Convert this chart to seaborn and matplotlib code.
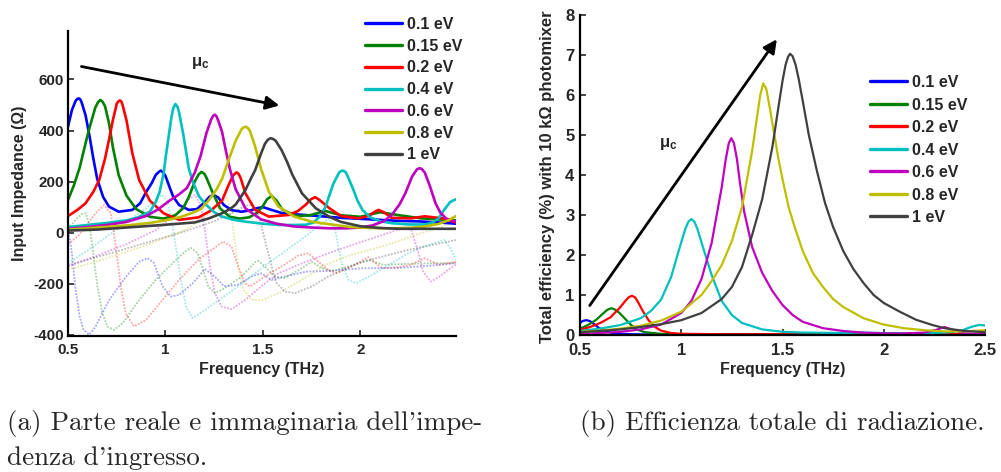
import matplotlib
matplotlib.use("Agg")
import matplotlib.pyplot as plt
from matplotlib.lines import Line2D
import seaborn as sns

# ---------------------------------------------------------------- data
labels = ["0.1 eV", "0.15 eV", "0.2 eV", "0.4 eV", "0.6 eV", "0.8 eV", "1 eV"]
colors = ["#0000ff", "#008000", "#ff0000", "#00bfbf", "#bf00bf", "#bfbf00", "#404040"]

# Input impedance, real part (Ohm) vs frequency (THz)
re_f_01 = [0.50, 0.52, 0.54, 0.548, 0.555, 0.563, 0.57, 0.59, 0.61, 0.63, 0.65, 0.68, 0.71, 0.76, 0.83, 0.87, 0.90, 0.93, 0.95, 0.966, 0.976, 0.988, 1.00, 1.02, 1.04, 1.07, 1.12, 1.16, 1.20, 1.225, 1.245, 1.27, 1.30, 1.34, 1.39, 1.44, 1.47, 1.50, 1.54, 1.60, 1.70, 1.80, 1.90, 2.00, 2.10, 2.20, 2.30, 2.40, 2.49]
re_v_01 = [415, 480, 518, 524, 526, 522, 510, 460, 380, 290, 210, 140, 102, 82, 89, 115, 158, 195, 226, 238, 243, 236, 222, 180, 140, 108, 89, 92, 118, 140, 148, 138, 108, 88, 82, 88, 96, 100, 90, 76, 70, 64, 58, 54, 50, 46, 44, 40, 35]

re_f_015 = [0.50, 0.53, 0.56, 0.59, 0.61, 0.64, 0.655, 0.666, 0.677, 0.69, 0.71, 0.73, 0.76, 0.80, 0.85, 0.92, 0.99, 1.05, 1.09, 1.12, 1.15, 1.17, 1.185, 1.20, 1.21, 1.24, 1.28, 1.33, 1.38, 1.43, 1.47, 1.50, 1.52, 1.545, 1.57, 1.60, 1.67, 1.74, 1.82, 1.90, 2.00, 2.10, 2.20, 2.31, 2.40, 2.49]
re_v_015 = [128, 185, 255, 350, 410, 490, 512, 520, 513, 495, 430, 335, 225, 145, 92, 62, 55, 68, 95, 140, 200, 228, 238, 230, 215, 160, 95, 62, 55, 60, 78, 105, 130, 144, 125, 90, 65, 68, 85, 68, 62, 80, 68, 56, 52, 48]

re_f_02 = [0.50, 0.55, 0.59, 0.63, 0.66, 0.69, 0.71, 0.73, 0.75, 0.758, 0.766, 0.774, 0.78, 0.80, 0.83, 0.865, 0.92, 0.99, 1.07, 1.17, 1.23, 1.29, 1.32, 1.345, 1.357, 1.365, 1.375, 1.385, 1.41, 1.46, 1.53, 1.63, 1.68, 1.72, 1.745, 1.767, 1.79, 1.84, 1.90, 1.99, 2.04, 2.07, 2.092, 2.12, 2.16, 2.26, 2.33, 2.42, 2.49]
re_v_02 = [65, 90, 115, 160, 206, 290, 363, 440, 505, 514, 518, 513, 500, 440, 311, 206, 125, 76, 50, 60, 85, 125, 180, 222, 232, 236, 230, 215, 154, 89, 63, 69, 85, 110, 130, 139, 128, 96, 65, 56, 65, 80, 89, 80, 58, 56, 64, 56, 40]

re_f_04 = [0.50, 0.60, 0.70, 0.80, 0.86, 0.92, 0.95, 0.97, 0.99, 1.00, 1.015, 1.03, 1.04, 1.051, 1.062, 1.07, 1.09, 1.105, 1.12, 1.14, 1.17, 1.20, 1.25, 1.29, 1.35, 1.41, 1.50, 1.58, 1.66, 1.72, 1.76, 1.79, 1.82, 1.86, 1.89, 1.90, 1.912, 1.925, 1.935, 1.96, 1.985, 2.01, 2.05, 2.10, 2.16, 2.25, 2.33, 2.37, 2.40, 2.43, 2.46, 2.49]
re_v_04 = [22, 30, 38, 48, 60, 82, 120, 160, 230, 290, 370, 450, 488, 504, 492, 470, 390, 320, 250, 200, 145, 115, 80, 63, 50, 43, 35, 30, 30, 31, 40, 62, 100, 190, 235, 241, 243, 236, 220, 175, 125, 89, 60, 45, 37, 32, 32, 40, 55, 90, 120, 131]

re_f_06 = [0.50, 0.60, 0.70, 0.80, 0.90, 0.96, 1.02, 1.07, 1.11, 1.15, 1.18, 1.21, 1.235, 1.245, 1.253, 1.262, 1.27, 1.29, 1.31, 1.33, 1.36, 1.41, 1.49, 1.57, 1.66, 1.75, 1.84, 1.93, 2.00, 2.06, 2.12, 2.16, 2.20, 2.23, 2.265, 2.29, 2.298, 2.306, 2.315, 2.33, 2.355, 2.385, 2.41, 2.44, 2.49]
re_v_06 = [15, 22, 30, 42, 65, 90, 125, 150, 175, 235, 300, 390, 445, 458, 462, 455, 440, 395, 320, 250, 170, 95, 52, 35, 24, 20, 17, 17, 20, 28, 45, 69, 110, 154, 220, 248, 251, 252, 249, 235, 185, 115, 78, 55, 43]

re_f_08 = [0.50, 0.65, 0.80, 0.92, 1.00, 1.08, 1.14, 1.18, 1.22, 1.26, 1.29, 1.33, 1.36, 1.39, 1.40, 1.413, 1.425, 1.435, 1.46, 1.49, 1.53, 1.58, 1.66, 1.75, 1.84, 1.95, 2.05, 2.16, 2.26, 2.33, 2.40, 2.45, 2.49]
re_v_08 = [12, 20, 28, 38, 48, 62, 78, 92, 125, 167, 210, 298, 360, 405, 412, 415, 408, 395, 337, 250, 161, 102, 63, 43, 33, 22, 18, 17, 19, 24, 34, 48, 65]

re_f_10 = [0.50, 0.65, 0.80, 0.95, 1.05, 1.15, 1.22, 1.29, 1.33, 1.36, 1.41, 1.44, 1.46, 1.49, 1.51, 1.525, 1.539, 1.552, 1.565, 1.595, 1.625, 1.65, 1.70, 1.77, 1.84, 1.90, 2.00, 2.10, 2.20, 2.35, 2.49]
re_v_10 = [8, 12, 20, 28, 34, 40, 55, 76, 92, 110, 167, 215, 245, 310, 348, 364, 370, 367, 360, 324, 275, 228, 154, 96, 62, 42, 25, 18, 15, 15, 15]

# Input impedance, imaginary part (Ohm)
im_f_01 = [0.50, 0.52, 0.54, 0.56, 0.58, 0.608, 0.64, 0.71, 0.80, 0.865, 0.908, 0.94, 0.96, 0.985, 1.027, 1.07, 1.14, 1.202, 1.25, 1.30, 1.37, 1.44, 1.49, 1.545, 1.61, 1.72, 1.84, 2.00, 2.20, 2.35, 2.49]
im_v_01 = [15, -80, -230, -330, -380, -400, -370, -265, -170, -114, -100, -118, -160, -210, -251, -244, -198, -143, -170, -210, -205, -172, -159, -185, -172, -153, -150, -140, -138, -130, -120]

im_f_015 = [0.50, 0.54, 0.57, 0.591, 0.61, 0.625, 0.651, 0.677, 0.702, 0.736, 0.78, 0.865, 0.95, 1.036, 1.10, 1.13, 1.165, 1.19, 1.22, 1.253, 1.305, 1.39, 1.46, 1.476, 1.51, 1.56, 1.61, 1.70, 1.75, 1.80, 1.86, 1.95, 2.04, 2.12, 2.25, 2.49]
im_v_015 = [15, 50, 72, 76, 30, -55, -211, -316, -368, -381, -355, -264, -185, -120, -74, -60, -80, -140, -211, -237, -218, -172, -116, -110, -133, -172, -179, -139, -114, -139, -150, -130, -107, -126, -122, -118]

im_f_02 = [0.50, 0.55, 0.59, 0.64, 0.685, 0.72, 0.745, 0.771, 0.796, 0.839, 0.90, 0.985, 1.07, 1.17, 1.25, 1.296, 1.339, 1.373, 1.408, 1.433, 1.51, 1.60, 1.68, 1.733, 1.784, 1.84, 1.88, 1.96, 2.04, 2.11, 2.20, 2.26, 2.33, 2.40, 2.49]
im_v_02 = [-45, -15, 24, 75, 108, 76, -55, -211, -316, -368, -342, -264, -185, -105, -60, -35, -55, -133, -198, -211, -172, -131, -90, -81, -114, -150, -158, -130, -96, -139, -135, -126, -100, -126, -115]

im_f_04 = [0.50, 0.60, 0.70, 0.80, 0.90, 0.96, 0.985, 1.01, 1.035, 1.055, 1.08, 1.105, 1.139, 1.20, 1.30, 1.40, 1.50, 1.60, 1.70, 1.80, 1.84, 1.87, 1.904, 1.938, 1.98, 2.075, 2.16, 2.245, 2.34, 2.43, 2.46, 2.49]
im_v_04 = [-120, -70, -15, 40, 95, 135, 148, 120, 30, -65, -190, -290, -335, -305, -250, -195, -135, -80, -25, 35, 55, 10, -120, -185, -198, -159, -120, -81, -50, -29, -60, -107]

im_f_06 = [0.50, 0.65, 0.80, 0.95, 1.05, 1.12, 1.15, 1.18, 1.202, 1.228, 1.253, 1.288, 1.339, 1.408, 1.50, 1.58, 1.70, 1.835, 1.95, 2.05, 2.15, 2.22, 2.26, 2.29, 2.32, 2.36, 2.40, 2.45, 2.49]
im_v_06 = [-133, -90, -45, 10, 70, 130, 148, 110, 10, -133, -237, -290, -300, -264, -205, -159, -120, -81, -50, -25, 0, 20, 10, -60, -150, -192, -175, -145, -126]

im_f_08 = [0.50, 0.70, 0.90, 1.10, 1.20, 1.27, 1.30, 1.314, 1.33, 1.348, 1.373, 1.40, 1.44, 1.493, 1.58, 1.70, 1.82, 1.95, 2.06, 2.16, 2.28, 2.40, 2.49]
im_v_08 = [-146, -100, -50, 10, 60, 105, 125, 135, 100, 10, -133, -224, -262, -266, -237, -185, -126, -88, -65, -42, -10, 20, 45]

im_f_10 = [0.50, 0.70, 0.90, 1.10, 1.25, 1.35, 1.41, 1.442, 1.47, 1.493, 1.515, 1.536, 1.555, 1.57, 1.613, 1.664, 1.75, 1.835, 1.99, 2.12, 2.245, 2.37, 2.49]
im_v_10 = [-127, -85, -40, 5, 45, 80, 105, 110, 85, 24, -45, -107, -165, -198, -231, -237, -211, -172, -120, -92, -68, -48, -29]

# Total radiation efficiency (%) with a 10 kOhm photomixer
ef_f_01 = [0.50, 0.51, 0.52, 0.531, 0.542, 0.555, 0.57, 0.59, 0.62, 0.66, 0.70, 0.80, 1.00, 1.50, 2.00, 2.50]
ef_v_01 = [0.30, 0.34, 0.36, 0.37, 0.36, 0.33, 0.27, 0.19, 0.10, 0.05, 0.03, 0.015, 0.01, 0.01, 0.01, 0.01]

ef_f_015 = [0.50, 0.54, 0.58, 0.61, 0.635, 0.655, 0.675, 0.695, 0.72, 0.75, 0.78, 0.82, 0.90, 1.00, 1.50, 2.00, 2.50]
ef_v_015 = [0.16, 0.25, 0.38, 0.52, 0.63, 0.67, 0.63, 0.55, 0.42, 0.26, 0.14, 0.07, 0.03, 0.02, 0.01, 0.01, 0.01]

ef_f_02 = [0.50, 0.55, 0.60, 0.65, 0.70, 0.725, 0.742, 0.757, 0.772, 0.787, 0.81, 0.84, 0.87, 0.90, 0.95, 1.00, 1.20, 1.50, 2.00, 2.50]
ef_v_02 = [0.13, 0.20, 0.30, 0.44, 0.70, 0.86, 0.95, 0.98, 0.94, 0.82, 0.60, 0.36, 0.20, 0.11, 0.05, 0.03, 0.02, 0.02, 0.02, 0.02]

ef_f_04 = [0.50, 0.60, 0.70, 0.80, 0.85, 0.90, 0.95, 0.99, 1.02, 1.035, 1.05, 1.065, 1.08, 1.11, 1.15, 1.20, 1.25, 1.30, 1.40, 1.50, 1.60, 1.80, 1.90, 2.00, 2.20, 2.30, 2.38, 2.43, 2.47, 2.50]
ef_v_04 = [0.10, 0.16, 0.25, 0.42, 0.60, 0.88, 1.45, 2.15, 2.65, 2.83, 2.90, 2.83, 2.65, 2.15, 1.50, 0.85, 0.50, 0.30, 0.14, 0.08, 0.06, 0.05, 0.06, 0.05, 0.04, 0.06, 0.10, 0.20, 0.25, 0.24]

ef_f_06 = [0.50, 0.60, 0.70, 0.80, 0.90, 1.00, 1.05, 1.10, 1.15, 1.20, 1.22, 1.235, 1.247, 1.26, 1.275, 1.29, 1.31, 1.35, 1.40, 1.45, 1.50, 1.55, 1.60, 1.70, 1.80, 1.90, 2.00, 2.10, 2.20, 2.26, 2.30, 2.34, 2.40, 2.50]
ef_v_06 = [0.03, 0.05, 0.08, 0.14, 0.26, 0.55, 0.85, 1.40, 2.30, 3.70, 4.40, 4.80, 4.92, 4.80, 4.40, 3.80, 3.10, 2.20, 1.55, 1.10, 0.75, 0.50, 0.33, 0.17, 0.10, 0.06, 0.04, 0.04, 0.06, 0.13, 0.20, 0.13, 0.04, 0.02]

ef_f_08 = [0.50, 0.60, 0.70, 0.80, 0.90, 1.00, 1.10, 1.15, 1.20, 1.25, 1.30, 1.35, 1.37, 1.39, 1.405, 1.42, 1.44, 1.46, 1.48, 1.50, 1.53, 1.56, 1.60, 1.65, 1.70, 1.75, 1.80, 1.90, 2.00, 2.10, 2.20, 2.30, 2.40, 2.50]
ef_v_08 = [0.08, 0.11, 0.16, 0.23, 0.36, 0.58, 1.00, 1.35, 1.75, 2.35, 3.20, 4.60, 5.30, 6.00, 6.29, 6.15, 5.60, 5.00, 4.40, 3.90, 3.20, 2.70, 2.10, 1.55, 1.20, 0.90, 0.70, 0.42, 0.26, 0.17, 0.12, 0.09, 0.09, 0.12]

ef_f_10 = [0.50, 0.60, 0.70, 0.80, 0.90, 1.00, 1.10, 1.20, 1.25, 1.30, 1.35, 1.40, 1.45, 1.48, 1.50, 1.515, 1.527, 1.537, 1.55, 1.565, 1.58, 1.60, 1.63, 1.67, 1.71, 1.75, 1.80, 1.85, 1.90, 1.95, 2.00, 2.08, 2.16, 2.24, 2.30, 2.40, 2.50]
ef_v_10 = [0.07, 0.10, 0.14, 0.20, 0.27, 0.37, 0.55, 0.90, 1.20, 1.70, 2.50, 3.40, 4.70, 5.70, 6.35, 6.75, 6.95, 7.03, 6.97, 6.75, 6.40, 5.85, 5.00, 4.10, 3.30, 2.70, 2.10, 1.65, 1.30, 1.00, 0.80, 0.58, 0.38, 0.25, 0.17, 0.10, 0.07]

re_f = [re_f_01, re_f_015, re_f_02, re_f_04, re_f_06, re_f_08, re_f_10]
re_v = [re_v_01, re_v_015, re_v_02, re_v_04, re_v_06, re_v_08, re_v_10]
im_f = [im_f_01, im_f_015, im_f_02, im_f_04, im_f_06, im_f_08, im_f_10]
im_v = [im_v_01, im_v_015, im_v_02, im_v_04, im_v_06, im_v_08, im_v_10]
ef_f = [ef_f_01, ef_f_015, ef_f_02, ef_f_04, ef_f_06, ef_f_08, ef_f_10]
ef_v = [ef_v_01, ef_v_015, ef_v_02, ef_v_04, ef_v_06, ef_v_08, ef_v_10]

left_xticks = [0.5, 1, 1.5, 2]
left_xticklabels = ["0.5", "1", "1.5", "2"]
left_yticks = [-400, -200, 0, 200, 400, 600]
left_yticklabels = ["-400", "-200", "0", "200", "400", "600"]
right_xticks = [0.5, 1, 1.5, 2, 2.5]
right_xticklabels = ["0.5", "1", "1.5", "2", "2.5"]
right_yticks = [0, 1, 2, 3, 4, 5, 6, 7, 8]
right_yticklabels = ["0", "1", "2", "3", "4", "5", "6", "7", "8"]

# ---------------------------------------------------------------- style
sns.set_style("ticks")
plt.rcParams.update({
    "font.family": ["Liberation Sans", "DejaVu Sans"],
    "font.weight": "bold",
    "axes.labelweight": "bold",
    "mathtext.fontset": "custom",
    "mathtext.rm": "Liberation Sans:bold",
    "mathtext.it": "Liberation Sans:bold",
    "mathtext.bf": "Liberation Sans:bold",
    "axes.linewidth": 1.6,
    "axes.edgecolor": "black",
    "xtick.direction": "in",
    "ytick.direction": "in",
    "xtick.major.size": 4,
    "ytick.major.size": 4,
    "xtick.major.width": 1.2,
    "ytick.major.width": 1.2,
    "lines.solid_joinstyle": "round",
})

W, H = 1001, 472
fig = plt.figure(figsize=(W / 100, H / 100), dpi=100)


def px_axes(x0, y0, x1, y1):
    return fig.add_axes([x0 / W, 1 - y1 / H, (x1 - x0) / W, (y1 - y0) / H])


ax1 = px_axes(68, 31, 456, 336)
ax2 = px_axes(580, 15, 985, 335)

# ---------------------------------------------------------------- (a) impedance
for f, v, c in zip(im_f, im_v, colors):
    sns.lineplot(x=f, y=v, ax=ax1, color=c, linewidth=1.3, alpha=0.35,
                 linestyle=(0, (1, 0.8)), legend=False)
handles1 = []
for f, v, c, lab in zip(re_f, re_v, colors, labels):
    sns.lineplot(x=f, y=v, ax=ax1, color=c, linewidth=1.9, legend=False)
    handles1.append(Line2D([], [], color=c, linewidth=2.4, label=lab))

ax1.set_xlim(0.5, 2.49)
ax1.set_ylim(-405, 790)
ax1.set_xticks(left_xticks, left_xticklabels)
ax1.set_yticks(left_yticks, left_yticklabels)
ax1.tick_params(labelsize=11)
ax1.tick_params(axis="x", pad=5)
ax1.tick_params(axis="y", pad=3)
ax1.set_xlabel("Frequency (THz)", fontsize=11.5, fontweight="bold")
ax1.set_ylabel("Input Impedance (Ω)", fontsize=11.5, fontweight="bold")
ax1.xaxis.set_label_coords(0.5, -0.085)
ax1.yaxis.set_label_coords(-0.105, 0.5)
sns.despine(ax=ax1)

ax1.annotate("", xy=(1.598, 496), xytext=(0.555, 653),
             arrowprops=dict(arrowstyle="-|>", color="black", lw=2.0, mutation_scale=20))
ax1.text(1.176, 665, r"$\mu_c$", fontsize=12, ha="center", va="center")

fig.legend(handles=handles1, loc="upper left", bbox_to_anchor=(365 / W, 1 - 17 / H),
           frameon=False, fontsize=11.5, handlelength=2.3, handletextpad=0.3,
           labelspacing=0.42, borderaxespad=0, borderpad=0)

# ---------------------------------------------------------------- (b) efficiency
handles2 = []
for f, v, c, lab in zip(ef_f, ef_v, colors, labels):
    sns.lineplot(x=f, y=v, ax=ax2, color=c, linewidth=1.6, legend=False)
    handles2.append(Line2D([], [], color=c, linewidth=2.4, label=lab))

ax2.set_xlim(0.5, 2.5)
ax2.set_ylim(0, 8)
ax2.set_xticks(right_xticks, right_xticklabels)
ax2.set_yticks(right_yticks, right_yticklabels)
ax2.tick_params(labelsize=12)
ax2.tick_params(axis="x", pad=6)
ax2.tick_params(axis="y", pad=4)
ax2.set_xlabel("Frequency (THz)", fontsize=11.5, fontweight="bold")
ax2.set_ylabel("Total efficiency (%) with 10 kΩ photomixer", fontsize=12, fontweight="bold")
ax2.xaxis.set_label_coords(0.5, -0.085)
ax2.yaxis.set_label_coords(-0.062, 0.495)
sns.despine(ax=ax2)

ax2.annotate("", xy=(1.48, 7.45), xytext=(0.54, 0.68),
             arrowprops=dict(arrowstyle="-|>", color="black", lw=2.0, mutation_scale=20))
ax2.text(0.935, 4.78, r"$\mu_c$", fontsize=12, ha="center", va="center")

fig.legend(handles=handles2, loc="upper left", bbox_to_anchor=(870 / W, 1 - 75 / H),
           frameon=False, fontsize=11.5, handlelength=2.3, handletextpad=0.3,
           labelspacing=0.47, borderaxespad=0, borderpad=0)

# ---------------------------------------------------------------- captions
cap = dict(family="cmr10", fontsize=19.5, fontweight="normal", va="baseline", ha="left")
fig.text(7 / W, 1 - 430 / H, "(a) Parte reale e immaginaria dell'impe-", **cap)
fig.text(7 / W, 1 - 465 / H, "denza d'ingresso.", **cap)
fig.text(580 / W, 1 - 430 / H, "(b) Efficienza totale di radiazione.", **cap)

fig.savefig("out.png", dpi=100)
